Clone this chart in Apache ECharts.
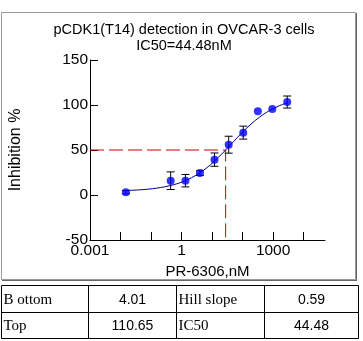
<!DOCTYPE html>
<html>
<head>
<meta charset="utf-8">
<script src="https://cdn.jsdelivr.net/npm/echarts@6/dist/echarts.min.js"></script>
<style>html,body{margin:0;padding:0;background:#fff;}#c{width:363px;height:341px;}</style>
</head>
<body>
<div id="c"></div>
<script>
// Measured points (concentration in nM, inhibition %, error)
var concentrations = [0.015, 0.44, 1.34, 4.0, 12, 35, 105, 316, 940, 2900];
var inhibition = [3.0, 15.9, 15.9, 24.4, 39.3, 55.9, 69.3, 93.0, 95.5, 103.3];
var errors = [1.8, 9.8, 6.9, 2.6, 7.4, 9.4, 7.2, 0, 0, 6.7];
// Fitted curve
var curveConc = [0.015, 0.05, 0.15, 0.5, 1.5, 5, 15, 50, 150, 500, 1500, 2900];
var curveVal = [5.0, 5.9, 7.6, 11.1, 16.7, 27.0, 40.8, 59.2, 75.7, 90.0, 98.8, 102.3];
// IC50 guide
var ic50Conc = 27.8;
var ic50Level = 50;
// Axis ticks
var yTicks = [-50, 0, 50, 100, 150];
var xTickDecades = [-2, -1, 0, 1, 2, 3, 4];
var xLabelDecades = [-3, 0, 3];
var xLabelText = {'-3': '0.001', '0': '1', '3': '1000'};
// Table
var tableRows = [['B ottom', '4.01', 'Hill slope', '0.59'], ['Top', '110.65', 'IC50', '44.48']];
var titleText = 'pCDK1(T14) detection in OVCAR-3 cells\nIC50=44.48nM';

var lg = function (v) { return Math.log10(v); };
var pts = concentrations.map(function (c, i) { return [lg(c), inhibition[i]]; });
var errData = concentrations.map(function (c, i) { return [lg(c), inhibition[i] - errors[i], inhibition[i] + errors[i]]; });
var curve = curveConc.map(function (c, i) { return [lg(c), curveVal[i]]; });
var guide = [[-3, ic50Level], [lg(ic50Conc), ic50Level], [lg(ic50Conc), -50]];

var chart = echarts.init(document.getElementById('c'), null, {renderer: 'canvas'});
var sans = '"Liberation Sans", Arial, sans-serif';
var serif = '"Liberation Serif", "Times New Roman", serif';

var colX = [1.5, 88.5, 176.5, 264.5, 358.5];
var rowY = [285.5, 312.5, 338.5];
var tableGraphics = [];
tableGraphics.push({type: 'rect', shape: {x: colX[0], y: rowY[0], width: colX[4] - colX[0], height: rowY[2] - rowY[0]}, style: {fill: 'none', stroke: '#000', lineWidth: 1}, silent: true});
tableGraphics.push({type: 'line', shape: {x1: colX[0], y1: rowY[1], x2: colX[4], y2: rowY[1]}, style: {stroke: '#000', lineWidth: 1}, silent: true});
for (var k = 1; k < 4; k++) {
  tableGraphics.push({type: 'line', shape: {x1: colX[k], y1: rowY[0], x2: colX[k], y2: rowY[2]}, style: {stroke: '#000', lineWidth: 1}, silent: true});
}
tableRows.forEach(function (row, r) {
  var cy = (rowY[r] + rowY[r + 1]) / 2 + 1;
  row.forEach(function (txt, c) {
    var isLabel = (c % 2 === 0);
    tableGraphics.push({
      type: 'text', silent: true,
      style: {
        text: txt,
        x: isLabel ? colX[c] + 2 : (colX[c] + colX[c + 1]) / 2,
        y: cy,
        textAlign: isLabel ? 'left' : 'center',
        textVerticalAlign: 'middle',
        font: isLabel ? ('15px ' + serif) : ('14px ' + sans),
        fill: '#000'
      }
    });
  });
});

var option = {
  animation: false,
  backgroundColor: '#fff',
  title: {
    text: titleText, left: 179, top: 17, textAlign: 'center',
    textStyle: {fontFamily: sans, fontSize: 14.5, fontWeight: 'normal', color: '#000', lineHeight: 16}
  },
  grid: {left: 82, right: 38, top: 60, bottom: 101},
  xAxis: {
    type: 'value', min: -3, max: 4.7, interval: 1,
    name: 'PR-6306,nM', nameLocation: 'middle', nameGap: 23,
    nameTextStyle: {fontFamily: sans, fontSize: 15, color: '#000'},
    axisLine: {onZero: false, lineStyle: {color: '#000', width: 1}},
    axisTick: {inside: true, length: 8, lineStyle: {color: '#000'}, customValues: xTickDecades},
    axisLabel: {customValues: xLabelDecades, fontFamily: sans, fontSize: 15.5, color: '#000', margin: 3,
      formatter: function (v) { return xLabelText[String(Math.round(v))] || ''; }},
    splitLine: {show: false}
  },
  yAxis: {
    type: 'value', min: -50, max: 150, interval: 50,
    name: 'Inhibition %', nameLocation: 'middle', nameGap: 66,
    nameTextStyle: {fontFamily: sans, fontSize: 16, color: '#000'},
    axisLine: {show: true, onZero: false, lineStyle: {color: '#000', width: 1}},
    axisTick: {show: true, inside: true, length: 8, lineStyle: {color: '#000'}, customValues: yTicks},
    axisLabel: {fontFamily: sans, fontSize: 15.5, color: '#000', margin: 2},
    splitLine: {show: false}
  },
  series: [
    {
      type: 'line', data: guide, symbol: 'none', silent: true,
      lineStyle: {color: '#cc0000', width: 1, type: [14, 5]}, z: 1
    },
    {
      type: 'line', data: curve, symbol: 'none', smooth: 0.4, silent: true,
      lineStyle: {color: '#00008b', width: 1}, z: 2
    },
    {
      type: 'custom', data: errData, z: 3, silent: true,
      renderItem: function (params, api) {
        var x = api.value(0), lo = api.value(1), hi = api.value(2);
        if (hi - lo < 0.01) return null;
        var pLo = api.coord([x, lo]), pHi = api.coord([x, hi]);
        var hw = 4;
        var st = {stroke: '#000', lineWidth: 1};
        return {type: 'group', children: [
          {type: 'line', shape: {x1: pLo[0], y1: pLo[1], x2: pHi[0], y2: pHi[1]}, style: st},
          {type: 'line', shape: {x1: pLo[0] - hw, y1: pLo[1], x2: pLo[0] + hw, y2: pLo[1]}, style: st},
          {type: 'line', shape: {x1: pHi[0] - hw, y1: pHi[1], x2: pHi[0] + hw, y2: pHi[1]}, style: st}
        ]};
      }
    },
    {
      type: 'scatter', data: pts, symbol: 'circle', symbolSize: 8, silent: true,
      itemStyle: {color: '#0000ff'}, z: 4
    }
  ],
  graphic: [
    {type: 'rect', shape: {x: 1.5, y: 12.5, width: 354, height: 267}, style: {fill: 'none', stroke: '#999', lineWidth: 1}, silent: true},
    {type: 'line', shape: {x1: 356.5, y1: 13, x2: 356.5, y2: 281}, style: {stroke: '#666', lineWidth: 1}, silent: true},
    {type: 'line', shape: {x1: 2, y1: 280.5, x2: 357, y2: 280.5}, style: {stroke: '#666', lineWidth: 1}, silent: true}
  ].concat(tableGraphics)
};
chart.setOption(option);
</script>
</body>
</html>
